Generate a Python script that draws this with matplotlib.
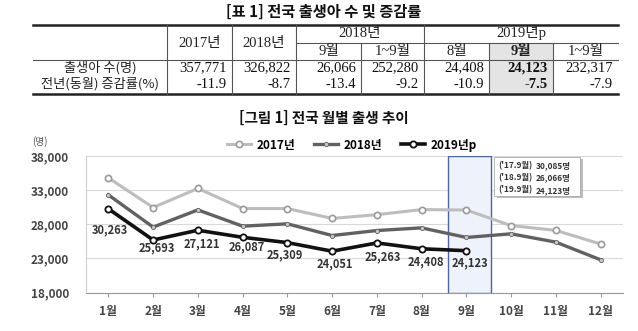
import matplotlib
matplotlib.use("Agg")
import matplotlib.pyplot as plt
from matplotlib.patches import Rectangle
from matplotlib.ticker import FuncFormatter

plt.rcParams['font.family'] = ['Noto Sans CJK KR', 'DejaVu Sans']

# ============ DATA ============
months = ['1월', '2월', '3월', '4월', '5월', '6월', '7월', '8월', '9월', '10월', '11월', '12월']
births_2017 = [34800, 30450, 33250, 30300, 30300, 28850, 29400, 30150, 30085, 27800, 27100, 25100]
births_2018 = [32300, 27580, 30100, 27720, 28060, 26350, 27080, 27470, 26066, 26600, 25380, 22790]
births_2019 = [30263, 25693, 27121, 26087, 25309, 24051, 25263, 24408, 24123]
yticks = [18000, 23000, 28000, 33000, 38000]

# label offsets for 2019 values (pixels)
label_dx = [1, 4, 4, 4, -3, 3, 6, 4, 4]
label_dy = [-21, -8, -14, -10, -12, -13, -14, -13, -12]

sep_notes = ["('17.9월)", "('18.9월)", "('19.9월)"]
sep_values = ['30,085명', '26,066명', '24,123명']

# table
table_title = '[표 1] 전국 출생아 수 및 증감률'
row_labels = ['출생아 수(명)', '전년(동월) 증감률(%)']
births_row = ['357,771', '326,822', '26,066', '252,280', '24,408', '24,123', '232,317']
change_row = ['-11.9', '-8.7', '-13.4', '-9.2', '-10.9', '-7.5', '-7.9']
sub_heads = ['9월', '1~9월', '8월', '9월', '1~9월']

W, H = 638, 331
fig = plt.figure(figsize=(W / 100, H / 100), dpi=100)

# ============ TABLE (pixel overlay) ============
ov = fig.add_axes([0, 0, 1, 1])
ov.set_xlim(0, W)
ov.set_ylim(H, 0)
ov.axis('off')

serif = ['Liberation Serif', 'Noto Sans CJK KR']
cols = [33, 167, 232, 296, 361, 424, 489, 553, 618]
y_top, y_mid, y_hdr, y_bot = 25, 42.5, 60, 94

# shaded 2019 9월 cell
ov.add_patch(Rectangle((cols[6], y_mid), cols[7] - cols[6], y_bot - y_mid,
                       facecolor='#e4e4e4', edgecolor='none', zorder=0))

ov.plot([cols[0], cols[-1]], [y_top, y_top], color='#222222', lw=1.8)
ov.plot([cols[0], cols[-1]], [y_bot, y_bot], color='#222222', lw=1.8)
ov.plot([cols[0], cols[-1]], [y_hdr, y_hdr], color='#555555', lw=0.8)
ov.plot([cols[3], cols[-1]], [y_mid, y_mid], color='#555555', lw=0.8)
for x in [cols[1], cols[2], cols[3], cols[5]]:
    ov.plot([x, x], [y_top, y_bot], color='#555555', lw=0.8)
for x in [cols[4], cols[6], cols[7]]:
    ov.plot([x, x], [y_mid, y_bot], color='#555555', lw=0.8)

ov.text(324, 12, table_title, ha='center', va='center', fontsize=11,
        fontweight='bold', color='#111111')

fs = 10.5
ov.text((cols[1] + cols[2]) / 2, 43, '2017년', ha='center', va='center', fontsize=fs, family=serif, color='#222222')
ov.text((cols[2] + cols[3]) / 2, 43, '2018년', ha='center', va='center', fontsize=fs, family=serif, color='#222222')
ov.text((cols[3] + cols[5]) / 2, 33, '2018년', ha='center', va='center', fontsize=fs, family=serif, color='#222222')
ov.text((cols[5] + cols[8]) / 2, 33, '2019년p', ha='center', va='center', fontsize=fs, family=serif, color='#222222')
for i, h in enumerate(sub_heads):
    xc = (cols[3 + i] + cols[4 + i]) / 2
    ov.text(xc, 51, h, ha='center', va='center', fontsize=fs, family=serif, color='#222222',
            fontweight='bold' if i == 3 else 'normal')

ov.text((cols[0] + cols[1]) / 2, 68, row_labels[0], ha='center', va='center', fontsize=9.5, color='#222222')
ov.text((cols[0] + cols[1]) / 2, 84, row_labels[1], ha='center', va='center', fontsize=9.5, color='#222222')
for i in range(len(births_row)):
    xr = cols[i + 2] - 5
    bold = 'bold' if i == 5 else 'normal'
    ov.text(xr, 68, births_row[i], ha='right', va='center', fontsize=fs, family=serif,
            color='#111111', fontweight=bold)
    ov.text(xr, 84, change_row[i], ha='right', va='center', fontsize=fs, family=serif,
            color='#111111', fontweight=bold)

# ============ CHART ============
ax = fig.add_axes([86 / W, (H - 292.5) / H, 537 / W, 136.5 / H])
x = list(range(1, 13))

ax.axvspan(8.6, 9.54, facecolor='#eef2fa', edgecolor='#4a64a8', lw=1.0, zorder=1)

l17, = ax.plot(x, births_2017, color='#bdbdbd', lw=2.2, marker='o', ms=4.5,
               mfc='white', mec='#9a9a9a', mew=1.2, zorder=3, label='2017년')
l18, = ax.plot(x, births_2018, color='#616161', lw=2.4, marker='o', ms=3,
               mfc='#c8c8c8', mec='#616161', mew=0.6, zorder=3, label='2018년')
l19, = ax.plot(x[:9], births_2019, color='#111111', lw=2.6, marker='o', ms=4.5,
               mfc='white', mec='#111111', mew=1.3, zorder=4, label='2019년p')

for i, v in enumerate(births_2019):
    ax.annotate(f'{v:,}', (x[i], v), xytext=(label_dx[i], label_dy[i]),
                textcoords='offset pixels', ha='center', va='center',
                fontsize=8, fontweight='bold', color='#333333', zorder=5)

ax.set_xlim(0.5, 12.5)
ax.set_ylim(18000, 38000)
ax.set_xticks(x)
ax.set_xticklabels(months)
ax.set_yticks(yticks)
ax.yaxis.set_major_formatter(FuncFormatter(lambda v, p: f'{int(v):,}'))
ax.grid(axis='y', color='#d9d9d9', lw=0.8, zorder=0)
ax.set_axisbelow(True)
for s in ['top', 'right']:
    ax.spines[s].set_visible(False)
ax.spines['left'].set_color('#cfcfcf')
ax.spines['bottom'].set_color('#999999')
ax.tick_params(axis='y', length=0, pad=12, labelsize=8.5, labelcolor='#444444')
ax.tick_params(axis='x', length=3, color='#999999', pad=6, labelsize=8.5, labelcolor='#444444')
for t in ax.get_xticklabels() + ax.get_yticklabels():
    t.set_fontweight('bold')

# september note box
ax.add_patch(Rectangle((0.765, 0.695), 0.16, 0.285, transform=ax.transAxes,
                       facecolor='#bbbbbb', edgecolor='none', zorder=5))
ax.add_patch(Rectangle((0.76, 0.705), 0.16, 0.285, transform=ax.transAxes,
                       facecolor='white', edgecolor='#aaaaaa', lw=0.6, zorder=6))
for i in range(3):
    yy = 0.93 - i * 0.09
    ax.text(0.767, yy, sep_notes[i], transform=ax.transAxes, fontsize=6,
            fontweight='bold', color='#333333', va='center', zorder=7)
    ax.text(0.838, yy, sep_values[i], transform=ax.transAxes, fontsize=6,
            fontweight='bold', color='#333333', va='center', zorder=7)

fig.text(40 / W, 1 - 142 / H, '(명)', fontsize=7, color='#555555', ha='center', va='center')
fig.text(324 / W, 1 - 118 / H, '[그림 1] 전국 월별 출생 추이', fontsize=10.5,
         fontweight='bold', ha='center', va='center', color='#111111')

fig.legend(handles=[l17, l18, l19], loc='center', bbox_to_anchor=(352 / W, 1 - 145 / H),
           ncol=3, frameon=False, handlelength=2.0, columnspacing=1.6, handletextpad=0.5,
           prop={'weight': 'bold', 'size': 8.5})

fig.savefig('out.png', dpi=100)
